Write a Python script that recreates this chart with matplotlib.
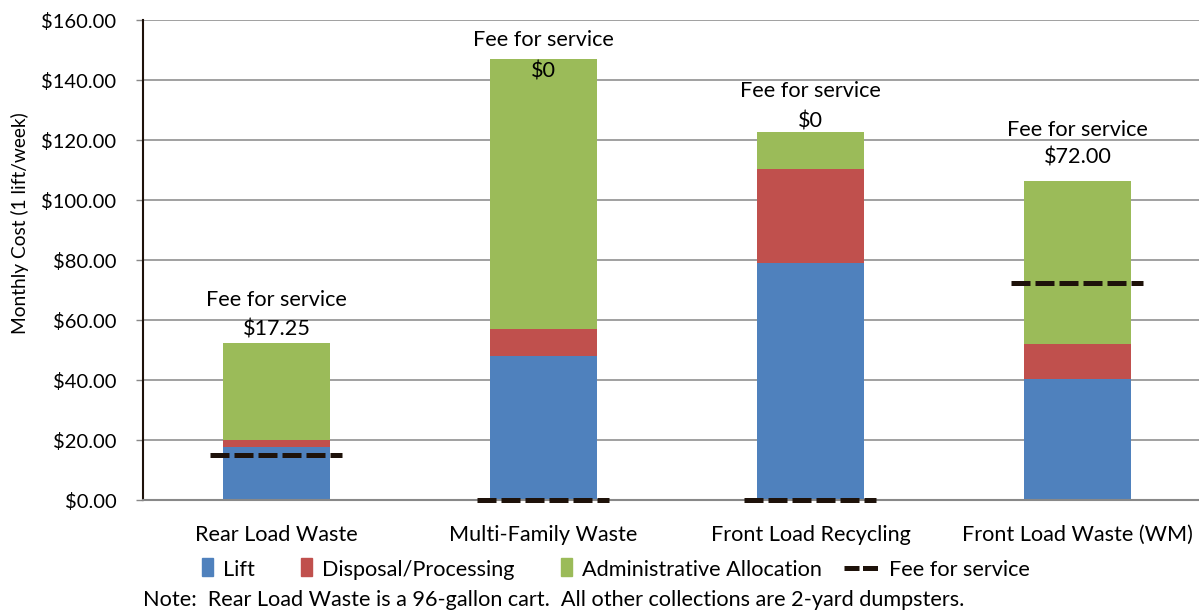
import numpy as np
import matplotlib.pyplot as plt
from matplotlib.lines import Line2D
from matplotlib.patches import Patch, Rectangle
from matplotlib.legend_handler import HandlerPatch

plt.rcParams['font.family'] = ['Lato', 'DejaVu Sans']

categories = ['Rear Load Waste', 'Multi-Family Waste', 'Front Load Recycling', 'Front Load Waste (WM)']
lift = [17.8, 48.1, 79.0, 40.2]
disposal = [2.2, 8.9, 31.3, 11.8]
admin = [32.4, 89.9, 12.5, 54.3]
fee_line = [15.0, 0.0, 0.0, 72.5]
fee_text = ['$17.25', '$0', '$0', '$72.00']

blue = '#4F81BD'
red = '#C0504D'
green = '#9BBB59'
dark = '#1E120A'
fs = 15.6

fig = plt.figure(figsize=(11.99, 6.11), dpi=100)
# axes runs past the right edge like the original
ax = fig.add_axes([143/1199, 111/611, 1068/1199, 480/611])

x = np.arange(len(categories))
lift = np.array(lift)
disposal = np.array(disposal)
admin = np.array(admin)
w = 0.4
ax.bar(x, lift, w, color=blue, zorder=2)
ax.bar(x, disposal, w, bottom=lift, color=red, zorder=2)
ax.bar(x, admin, w, bottom=lift + disposal, color=green, zorder=2)

for i, f in enumerate(fee_line):
    ax.plot([i - 0.25, i + 0.245], [f, f], color=dark, linewidth=3.6,
            dashes=(3.8, 1.0), solid_capstyle='butt', dash_capstyle='butt',
            zorder=3, clip_on=False)

# label offsets (data units above/below the bar top)
top = lift + disposal + admin
fee_off = [14.3, 6.4, 13.5, 17.0]
val_off = [4.6, -4.2, 3.5, 7.7]
for i in range(len(categories)):
    ax.text(i, top[i] + fee_off[i], 'Fee for service', ha='center', va='center', fontsize=fs)
    ax.text(i, top[i] + val_off[i], fee_text[i], ha='center', va='center', fontsize=fs)

ax.set_xlim(-0.5, 3.5)
ax.set_ylim(0, 160)
ax.set_yticks(np.arange(0, 161, 20))
ax.set_yticklabels(['${:.2f}'.format(v) for v in np.arange(0, 161, 20)], fontsize=14.5)
ax.set_xticks(x)
ax.set_xticklabels(categories, fontsize=fs)
ax.tick_params(axis='x', length=0, pad=18)
ax.tick_params(axis='y', length=5, width=1, color='#888888', pad=14)
ax.yaxis.grid(True, color='#999999', linewidth=1.3, zorder=0)
ax.set_axisbelow(True)
for s in ['top', 'right']:
    ax.spines[s].set_visible(False)
ax.spines['left'].set_color(dark)
ax.spines['left'].set_linewidth(1.5)
ax.spines['bottom'].set_color('#888888')
ax.spines['bottom'].set_linewidth(1.5)
fig.text(20/1199, 1 - 223/611, 'Monthly Cost (1 lift/week)', rotation=90,
         ha='center', va='center', fontsize=13.8)


def small_square(legend, orig_handle, xdescent, ydescent, width, height, fontsize):
    sw, sh = 8, 13
    return Rectangle((width - sw, (height - sh) / 2 - ydescent + 1), sw, sh)


handles = [Patch(color=blue, label='Lift'),
           Patch(color=red, label='Disposal/Processing'),
           Patch(color=green, label='Administrative Allocation'),
           Line2D([0], [0], color=dark, linewidth=3.6, dashes=(3.0, 0.7), label='Fee for service')]
fig.legend(handles=handles, loc='center', bbox_to_anchor=(604/1199, 1 - 570/611), ncol=4,
           frameon=False, fontsize=fs, handlelength=1.6, handletextpad=0.45,
           columnspacing=1.05,
           handler_map={Patch: HandlerPatch(patch_func=small_square)})
fig.text(143/1199, 1 - 600/611, 'Note:  Rear Load Waste is a 96-gallon cart.  All other collections are 2-yard dumpsters.',
         ha='left', va='center', fontsize=fs)

plt.savefig('out.png', dpi=100)
